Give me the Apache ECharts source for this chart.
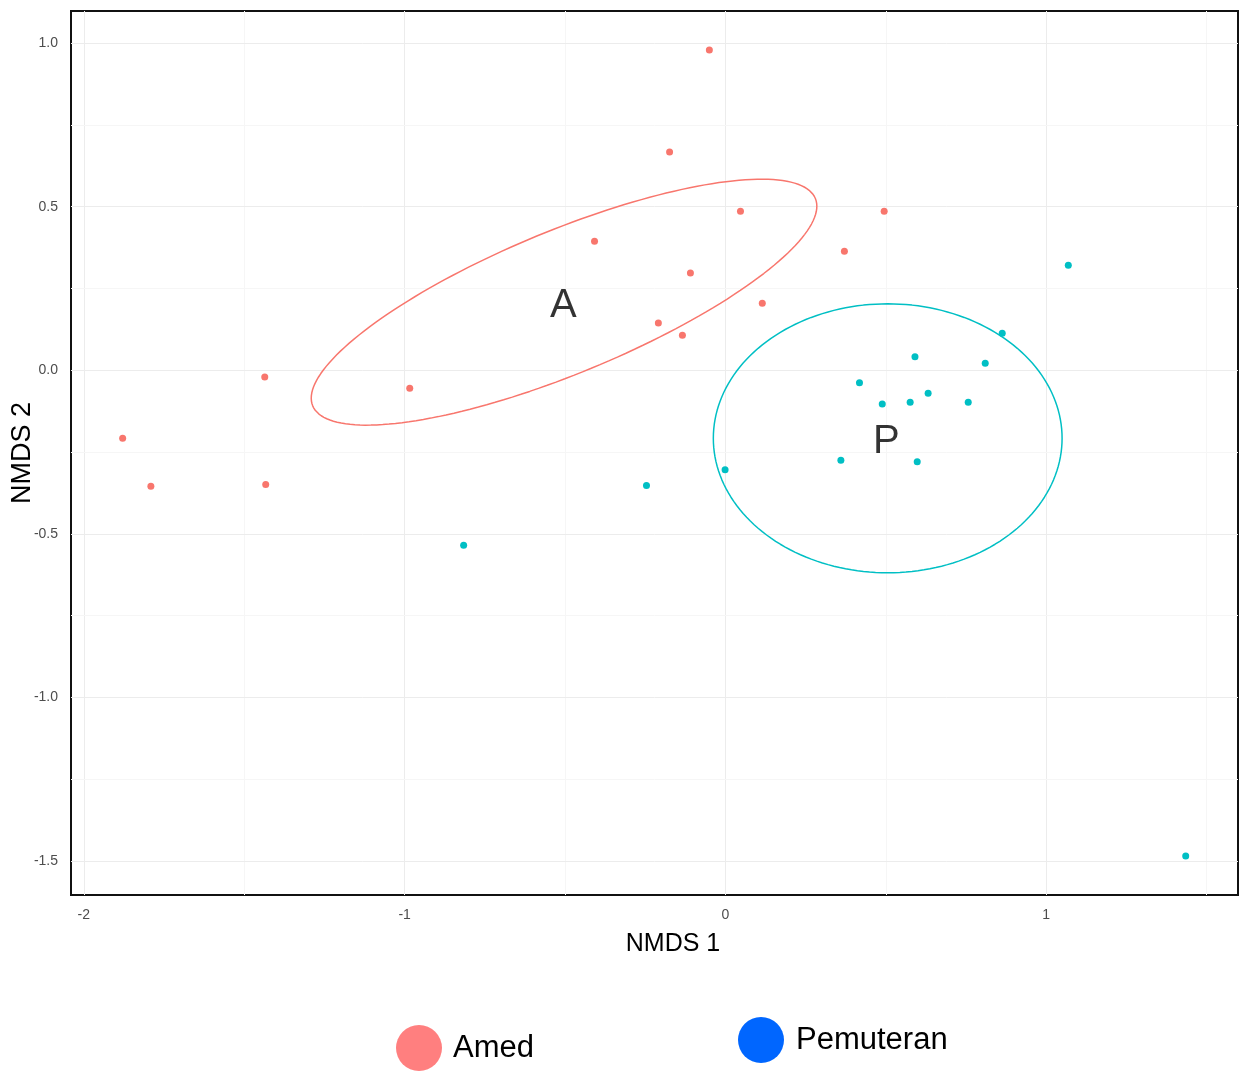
<!DOCTYPE html>
<html>
<head>
<meta charset="utf-8">
<script src="https://cdn.jsdelivr.net/npm/echarts@6/dist/echarts.min.js"></script>
<style>
html,body{margin:0;padding:0;background:#fff;}
#chart{width:1241px;height:1072px;}
</style>
</head>
<body>
<div id="chart"></div>
<script>
// ---- Data ----
const amedX = [-0.050, -0.174, 0.047, 0.495, -0.408, 0.371, -0.109, 0.115, -0.209, -0.134, -0.984, -1.436, -1.879, -1.791, -1.433];
const amedY = [0.979, 0.667, 0.486, 0.486, 0.394, 0.364, 0.297, 0.205, 0.144, 0.107, -0.055, -0.021, -0.208, -0.355, -0.349];
const pemX = [1.069, 0.863, 0.591, 0.810, 0.418, 0.632, 0.489, 0.576, 0.757, 0.360, 0.598, -0.001, -0.246, -0.816, 1.435];
const pemY = [0.321, 0.113, 0.041, 0.021, -0.038, -0.070, -0.103, -0.098, -0.098, -0.275, -0.280, -0.304, -0.352, -0.535, -1.485];

const xTicks = [-2, -1, 0, 1];
const yTicks = [-1.5, -1.0, -0.5, 0.0, 0.5, 1.0];
const xMinor = [-1.5, -0.5, 0.5, 1.5];
const yMinor = [-1.25, -0.75, -0.25, 0.25, 0.75];

// Ellipse parameters: centre and two conjugate semi-axis vectors (data units)
const ellipseA = {cx: -0.503, cy: 0.208, ux: 0.7835, uy: 0.3169, vx: -0.0849, vy: 0.2021};
const ellipseP = {cx: 0.506, cy: -0.208, ux: 0.5436, uy: 0.0, vx: 0.0, vy: 0.411};

const groupLabels = [
  {name: 'A', x: -0.505, y: 0.196},
  {name: 'P', x: 0.502, y: -0.22}
];

const colAmed = '#F8766D', colPem = '#00BFC4';
const FONT = '"Liberation Sans", Arial, sans-serif';

function ellipsePts(e){
  const pts = [];
  const n = 180;
  for (let i = 0; i <= n; i++){
    const t = 2*Math.PI*i/n;
    pts.push([e.cx + e.ux*Math.cos(t) + e.vx*Math.sin(t), e.cy + e.uy*Math.cos(t) + e.vy*Math.sin(t)]);
  }
  return pts;
}
const zip = (xs, ys) => xs.map((x, i) => [x, ys[i]]);

const gridLines = [];
xTicks.forEach(v => gridLines.push({xAxis: v, lineStyle: {color: '#ececec'}}));
xMinor.forEach(v => gridLines.push({xAxis: v, lineStyle: {color: '#f6f6f6'}}));
yTicks.forEach(v => gridLines.push({yAxis: v, lineStyle: {color: '#ececec'}}));
yMinor.forEach(v => gridLines.push({yAxis: v, lineStyle: {color: '#f6f6f6'}}));

const chart = echarts.init(document.getElementById('chart'));
chart.setOption({
  animation: false,
  backgroundColor: '#fff',
  textStyle: {fontFamily: FONT},
  grid: {left: 71, top: 11, right: 3, bottom: 177, show: true, borderColor: '#111', borderWidth: 2,
    backgroundColor: 'transparent', containLabel: false, outerBoundsMode: 'none'},
  xAxis: {
    type: 'value', min: -2.04, max: 1.598,
    axisLine: {show: false},
    splitLine: {show: false},
    axisTick: {show: true, length: 5, lineStyle: {color: '#333'}, customValues: xTicks},
    axisLabel: {customValues: xTicks, color: '#4d4d4d', fontSize: 14, margin: 13, fontFamily: FONT,
      formatter: v => String(v)},
    name: 'NMDS 1', nameLocation: 'middle', nameGap: 37, nameMoveOverlap: false,
    nameTextStyle: {fontSize: 25, color: '#000', fontFamily: FONT, padding: [0, 0, 0, 37]}
  },
  yAxis: {
    type: 'value', min: -1.604, max: 1.098,
    axisLine: {show: false},
    splitLine: {show: false},
    axisTick: {show: true, length: 5, lineStyle: {color: '#333'}, customValues: yTicks},
    axisLabel: {customValues: yTicks, color: '#4d4d4d', fontSize: 14, margin: 13, fontFamily: FONT,
      formatter: v => v.toFixed(1)},
    name: 'NMDS 2', nameLocation: 'middle', nameGap: 35, nameRotate: 90, nameMoveOverlap: false,
    nameTextStyle: {fontSize: 27, color: '#000', fontFamily: FONT}
  },
  legend: [
    {data: ['Amed'], left: 391, top: 1020, icon: 'circle', itemWidth: 46, itemHeight: 46,
      textStyle: {fontSize: 31, color: '#000', fontFamily: FONT, padding: [0, 0, 0, 6]}, selectedMode: false},
    {data: ['Pemuteran'], left: 733, top: 1012, icon: 'circle', itemWidth: 48, itemHeight: 46,
      textStyle: {fontSize: 31, color: '#000', fontFamily: FONT, padding: [0, 0, 0, 6]}, selectedMode: false}
  ],
  series: [
    {type: 'scatter', name: 'grid', data: [], silent: true, z: 1,
      markLine: {silent: true, symbol: 'none', label: {show: false}, animation: false, z: 1,
        lineStyle: {type: 'solid', width: 1}, data: gridLines}},
    {type: 'line', name: 'ellA', data: ellipsePts(ellipseA), showSymbol: false, symbol: 'none', silent: true,
      lineStyle: {color: colAmed, width: 1.5}, z: 3},
    {type: 'line', name: 'ellP', data: ellipsePts(ellipseP), showSymbol: false, symbol: 'none', silent: true,
      lineStyle: {color: colPem, width: 1.5}, z: 3},
    {type: 'scatter', name: 'amedPts', data: zip(amedX, amedY), symbolSize: 7, itemStyle: {color: colAmed, opacity: 1}, z: 4},
    {type: 'scatter', name: 'pemPts', data: zip(pemX, pemY), symbolSize: 7, itemStyle: {color: colPem, opacity: 1}, z: 4},
    {type: 'scatter', name: 'labels', data: groupLabels.map(d => ({name: d.name, value: [d.x, d.y]})),
      symbolSize: 0, silent: true, z: 5,
      label: {show: true, position: 'inside', formatter: p => p.name, fontSize: 40, color: '#000',
        textBorderWidth: 0, fontFamily: FONT}},
    {type: 'scatter', name: 'Amed', data: [], itemStyle: {color: '#FF7F7F', opacity: 1}},
    {type: 'scatter', name: 'Pemuteran', data: [], itemStyle: {color: '#0066FF', opacity: 1}}
  ]
});
</script>
</body>
</html>
